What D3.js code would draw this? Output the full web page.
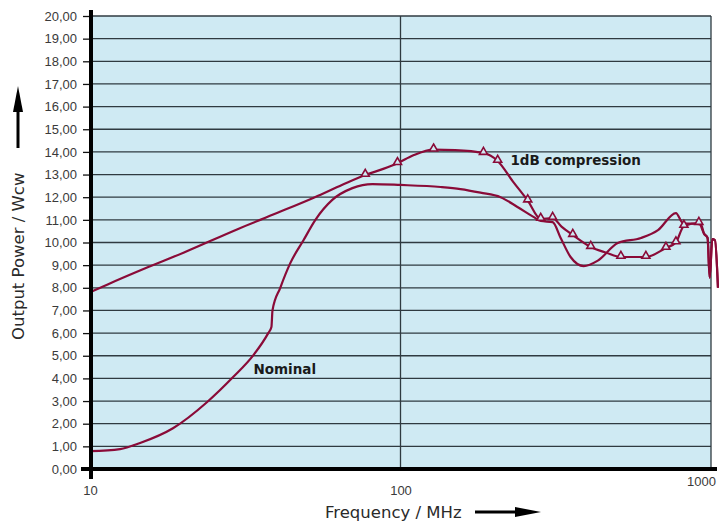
<!DOCTYPE html>
<html>
<head>
<meta charset="utf-8">
<script src="https://cdn.jsdelivr.net/npm/d3@7"></script>
<style>
  body { margin: 0; background: #fff; }
  #wrapper svg { display: block; font-family: "DejaVu Sans", sans-serif; }
  .grid line { stroke: #2f3a40; stroke-width: 1.3; }
  .tick text { fill: #3a3a3a; font-size: 13px; }
  .curve { fill: none; stroke: #8a0b38; stroke-width: 2.2; stroke-linejoin: round; }
  .marker { fill: #cfeaf3; stroke: #8a0b38; stroke-width: 1.6; }
  .curve-label { font-weight: bold; font-size: 13.5px; fill: #1a1a1a; }
  .axis-title { font-size: 16.5px; fill: #2a2a2a; }
</style>
</head>
<body>
<div id="wrapper"></div>
<script>
// frequency in MHz, output power in Wcw
const compressionFreq = [10, 11.4, 15, 20, 30, 40, 53, 65, 77, 88, 97.8, 110, 127.8, 150, 185, 205.6, 230, 256.9, 282.9, 309, 330, 358.8, 410, 460, 512.6, 617, 716, 771, 818, 914, 949, 975, 990, 1010, 1030, 1053]
const compressionPower = [7.8, 8.15, 8.85, 9.55, 10.6, 11.3, 12.0, 12.55, 12.98, 13.25, 13.5, 13.85, 14.1, 14.08, 13.95, 13.6, 12.7, 11.85, 11.04, 11.08, 10.7, 10.33, 9.8, 9.55, 9.36, 9.36, 9.76, 10.0, 10.73, 10.86, 10.4, 10.2, 8.45, 10.15, 10.1, 8.0]

const nominalFreq = [10, 12.5, 14.5, 18.5, 23.85, 28.9, 33.6, 37.5, 38.4, 38.7, 41, 44.2, 48.7, 53.2, 60.3, 70, 81.2, 100, 134.6, 156, 181, 210, 238, 268, 283, 309, 328, 353, 389, 432, 501, 595, 675, 771, 812, 928, 949, 975, 990, 1010, 1030, 1053]
const nominalPower = [0.79, 0.88, 1.15, 1.8, 2.96, 4.06, 5.03, 6.0, 6.27, 7.0, 8.0, 9.1, 10.1, 11.0, 11.88, 12.4, 12.58, 12.54, 12.45, 12.36, 12.2, 12.0, 11.57, 11.13, 10.95, 10.9, 10.2, 9.36, 8.96, 9.2, 9.98, 10.2, 10.55, 11.3, 10.86, 10.8, 10.4, 10.2, 8.45, 10.15, 10.1, 8.0]

// triangles sitting on the 1dB compression curve
const markerFreq = [77, 97.8, 127.8, 185, 205.6, 256.9, 282.9, 309, 358.8, 410, 512.6, 617, 716, 771, 818, 914]
const markerPower = [12.98, 13.5, 14.1, 13.95, 13.6, 11.85, 11.04, 11.08, 10.33, 9.8, 9.36, 9.36, 9.76, 10.0, 10.73, 10.86]

const powerTicks = d3.range(0, 21, 1)
const freqTicks = [10, 100, 1000]

async function drawChart() {

  // 1. Access data

  const toPoints = (xs, ys) => xs.map((f, i) => ({ f, p: ys[i] }))
  const compression = toPoints(compressionFreq, compressionPower)
  const nominal = toPoints(nominalFreq, nominalPower)
  const markers = toPoints(markerFreq, markerPower)

  // 2. Create chart dimensions

  let dimensions = {
    width: 728,
    height: 521,
    margin: {
      top: 16,
      right: 17,
      bottom: 52,
      left: 90,
    },
  }
  dimensions.boundedWidth = dimensions.width - dimensions.margin.left - dimensions.margin.right
  dimensions.boundedHeight = dimensions.height - dimensions.margin.top - dimensions.margin.bottom

  // 3. Draw canvas

  const wrapper = d3.select("#wrapper")
    .append("svg")
      .attr("width", dimensions.width)
      .attr("height", dimensions.height)

  const bounds = wrapper.append("g")
      .attr("transform", `translate(${dimensions.margin.left}, ${dimensions.margin.top})`)

  // 4. Create scales

  const xScale = d3.scaleLog()
      .domain([10, 1000])
      .range([0, dimensions.boundedWidth])

  const yScale = d3.scaleLinear()
      .domain([0, 20])
      .range([dimensions.boundedHeight, 0])

  // 5. Draw data

  bounds.append("rect")
      .attr("width", dimensions.boundedWidth)
      .attr("height", dimensions.boundedHeight)
      .attr("fill", "#cfeaf3")

  bounds.append("g")
      .attr("class", "grid")
    .selectAll("line")
    .data(powerTicks.slice(1))
    .join("line")
      .attr("x1", 0)
      .attr("x2", dimensions.boundedWidth)
      .attr("y1", d => yScale(d))
      .attr("y2", d => yScale(d))

  bounds.append("g")
      .attr("class", "grid")
    .selectAll("line")
    .data([100, 1000])
    .join("line")
      .attr("x1", d => xScale(d))
      .attr("x2", d => xScale(d))
      .attr("y1", 0)
      .attr("y2", dimensions.boundedHeight)

  const lineGenerator = d3.line()
      .x(d => xScale(d.f))
      .y(d => yScale(d.p))
      .curve(d3.curveMonotoneX)

  bounds.append("path")
      .attr("class", "curve")
      .attr("d", lineGenerator(nominal))

  bounds.append("path")
      .attr("class", "curve")
      .attr("d", lineGenerator(compression))

  const triangle = d3.symbol().type(d3.symbolTriangle).size(28)
  bounds.selectAll(".marker")
    .data(markers)
    .join("path")
      .attr("class", "marker")
      .attr("transform", d => `translate(${xScale(d.f)}, ${yScale(d.p) - 1})`)
      .attr("d", triangle)

  // 6. Draw peripherals

  const comma = d => d3.format(".2f")(d).replace(".", ",")

  const yAxis = bounds.append("g")
      .call(d3.axisLeft(yScale)
        .tickValues(powerTicks)
        .tickFormat(comma)
        .tickSize(7)
        .tickPadding(6))
  yAxis.select(".domain").remove()
  yAxis.selectAll(".tick line").attr("stroke", "#111").attr("stroke-width", 1.3)

  const xAxis = bounds.append("g")
      .attr("transform", `translate(0, ${dimensions.boundedHeight})`)
      .call(d3.axisBottom(xScale)
        .tickValues(freqTicks)
        .tickFormat(d3.format("d"))
        .tickSize(0)
        .tickPadding(17))
  xAxis.select(".domain").remove()
  xAxis.selectAll(".tick text")
      .filter(d => d == 1000)
      .attr("transform", "translate(-10, -9)")

  // thick axis lines
  bounds.append("line")
      .attr("x1", 1)
      .attr("x2", 1)
      .attr("y1", -6)
      .attr("y2", dimensions.boundedHeight + 10)
      .attr("stroke", "#000")
      .attr("stroke-width", 4)

  bounds.append("line")
      .attr("x1", -9)
      .attr("x2", dimensions.boundedWidth + 6)
      .attr("y1", dimensions.boundedHeight)
      .attr("y2", dimensions.boundedHeight)
      .attr("stroke", "#000")
      .attr("stroke-width", 4)

  bounds.append("text")
      .attr("class", "curve-label")
      .attr("x", xScale(226))
      .attr("y", yScale(13.4))
      .text("1dB compression")

  bounds.append("text")
      .attr("class", "curve-label")
      .attr("x", xScale(33.6))
      .attr("y", yScale(4.2))
      .text("Nominal")

  // axis titles with arrows (shaft + filled head)
  const arrow = (g, x0, x1) => {
    g.append("line")
        .attr("x1", x0)
        .attr("x2", x1 - 22)
        .attr("y1", -6)
        .attr("y2", -6)
        .attr("stroke", "#000")
        .attr("stroke-width", 3)
    g.append("path")
        .attr("d", `M${x1 - 26},${-11} L${x1},${-6} L${x1 - 26},${-1} Z`)
        .attr("fill", "#000")
  }

  const yTitle = wrapper.append("g")
      .attr("transform", "translate(24, 340) rotate(-90)")
  yTitle.append("text")
      .attr("class", "axis-title")
      .text("Output Power / Wcw")
  arrow(yTitle, 192, 254)

  const xTitle = wrapper.append("g")
      .attr("transform", "translate(325, 518)")
  xTitle.append("text")
      .attr("class", "axis-title")
      .text("Frequency / MHz")
  arrow(xTitle, 150, 216)
}
drawChart()
</script>
</body>
</html>
